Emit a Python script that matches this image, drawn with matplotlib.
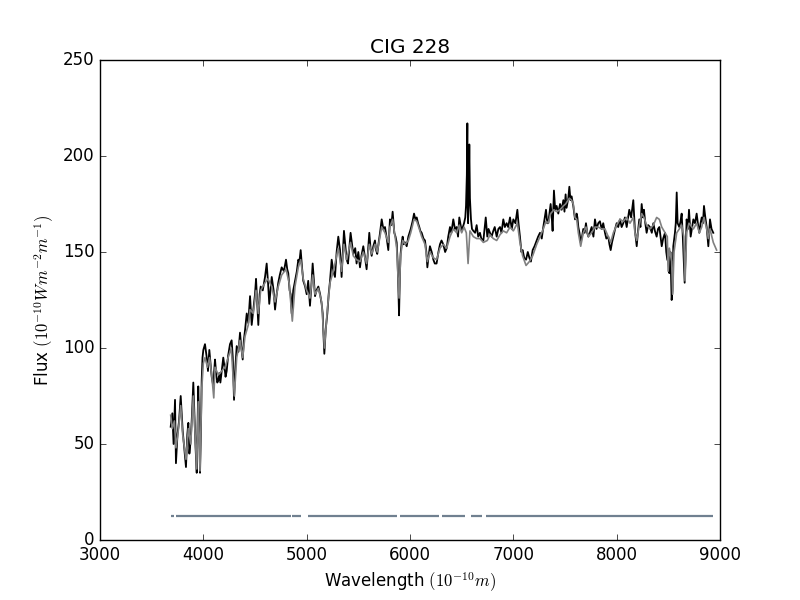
import numpy as np
import matplotlib
matplotlib.use('Agg')
import matplotlib.pyplot as plt

# observed spectrum (black)
obs_wave = [3684, 3700, 3712, 3726, 3735, 3750, 3765, 3781, 3800, 3815, 3832, 3845, 3855, 3865, 3878, 3890,
            3903, 3916, 3925, 3936, 3951, 3960, 3968, 3976, 3984, 3992, 4000, 4016, 4033, 4045, 4058, 4070,
            4081, 4097, 4105, 4113, 4125, 4135, 4145, 4155, 4165, 4178, 4193, 4205, 4215, 4226, 4240, 4258,
            4274, 4285, 4297, 4310, 4323, 4340, 4355, 4368, 4381, 4392, 4403, 4420, 4435, 4452, 4468, 4484,
            4500, 4510, 4520, 4532, 4545, 4555, 4575, 4597, 4613, 4625, 4638, 4650, 4662, 4680, 4694, 4710,
            4725, 4740, 4758, 4780, 4800, 4812, 4822, 4835, 4845, 4855, 4870, 4887, 4905, 4919, 4930, 4942,
            4955, 4967, 4985, 5000, 5015, 5032, 5045, 5058, 5070, 5081, 5095, 5113, 5130, 5145, 5155, 5161,
            5171, 5185, 5200, 5213, 5226, 5242, 5258, 5274, 5290, 5306, 5323, 5338, 5361, 5387, 5400, 5425,
            5451, 5470, 5483, 5500, 5516, 5530, 5548, 5565, 5580, 5593, 5606, 5618, 5629, 5645, 5661, 5672,
            5683, 5697, 5710, 5726, 5742, 5758, 5775, 5790, 5806, 5820, 5832, 5848, 5860, 5871, 5880, 5887,
            5894, 5902, 5909, 5920, 5929, 5940, 5952, 5968, 5984, 6007, 6025, 6039, 6052, 6065, 6078, 6090,
            6100, 6113, 6130, 6145, 6158, 6168, 6180, 6193, 6210, 6226, 6240, 6257, 6275, 6290, 6305, 6322,
            6340, 6355, 6370, 6387, 6400, 6419, 6435, 6452, 6465, 6477, 6490, 6500, 6512, 6523, 6535, 6542,
            6550, 6555, 6558, 6562, 6568, 6574, 6580, 6590, 6600, 6613, 6630, 6645, 6660, 6677, 6690, 6710,
            6722, 6733, 6748, 6760, 6774, 6790, 6806, 6820, 6839, 6855, 6871, 6885, 6903, 6918, 6935, 6950,
            6968, 6985, 7000, 7020, 7039, 7050, 7064, 7078, 7090, 7105, 7123, 7140, 7155, 7170, 7187, 7205,
            7226, 7240, 7258, 7275, 7290, 7305, 7316, 7328, 7338, 7350, 7361, 7372, 7380, 7393, 7405, 7419,
            7435, 7452, 7468, 7484, 7495, 7506, 7515, 7522, 7532, 7542, 7553, 7564, 7580, 7597, 7613, 7620,
            7629, 7640, 7652, 7665, 7677, 7690, 7703, 7715, 7726, 7740, 7758, 7775, 7790, 7805, 7822, 7838,
            7855, 7870, 7887, 7900, 7919, 7930, 7942, 7955, 7968, 7985, 8000, 8015, 8032, 8048, 8064, 8080,
            8097, 8122, 8140, 8161, 8177, 8194, 8205, 8219, 8230, 8242, 8255, 8264, 8277, 8290, 8305, 8322,
            8340, 8355, 8370, 8387, 8400, 8413, 8425, 8436, 8450, 8468, 8480, 8490, 8500, 8510, 8520, 8532,
            8540, 8548, 8564, 8572, 8581, 8590, 8606, 8618, 8629, 8640, 8650, 8658, 8668, 8677, 8690, 8700,
            8708, 8716, 8730, 8742, 8758, 8774, 8788, 8800, 8812, 8823, 8835, 8845, 8858, 8871, 8887, 8895,
            8903, 8918, 8935]
obs_flux = [59, 66, 50, 73, 40, 55, 62, 75, 57, 48, 38, 55, 61, 45, 52, 65,
            82, 62, 48, 35, 80, 60, 35, 55, 83, 95, 99, 102, 95, 88, 99, 92,
            85, 80, 88, 94, 86, 82, 83, 87, 82, 88, 95, 90, 85, 88, 96, 102,
            104, 95, 73, 90, 101, 98, 108, 100, 94, 104, 109, 118, 113, 127, 112, 120,
            128, 136, 125, 112, 128, 132, 130, 137, 144, 135, 123, 130, 137, 130, 120, 128,
            134, 138, 142, 140, 146, 141, 139, 130, 128, 118, 130, 135, 140, 146, 145, 151,
            142, 135, 132, 128, 135, 122, 132, 144, 135, 127, 130, 132, 128, 123, 118, 109,
            97, 110, 118, 128, 135, 146, 140, 137, 150, 158, 151, 137, 161, 146, 144, 160,
            149, 152, 144, 150, 142, 148, 153, 147, 141, 150, 160, 152, 148, 153, 156, 151,
            149, 155, 160, 167, 162, 163, 157, 151, 167, 164, 171, 160, 158, 155, 145, 132,
            117, 138, 149, 155, 158, 154, 155, 153, 158, 162, 166, 170, 167, 168, 165, 163,
            161, 160, 157, 156, 150, 142, 148, 153, 150, 146, 144, 144, 150, 154, 156, 154,
            150, 152, 158, 163, 160, 167, 162, 163, 158, 168, 164, 161, 163, 165, 168, 174,
            190, 217, 175, 165, 180, 206, 178, 167, 162, 161, 160, 164, 158, 160, 157, 156,
            162, 168, 158, 162, 160, 158, 161, 163, 158, 162, 163, 160, 167, 163, 165, 163,
            168, 162, 167, 165, 172, 165, 158, 150, 151, 147, 146, 150, 147, 145, 151, 153,
            156, 158, 160, 157, 163, 168, 172, 165, 165, 170, 175, 168, 161, 182, 172, 174,
            170, 175, 172, 177, 171, 180, 173, 175, 178, 184, 177, 179, 174, 167, 170, 168,
            163, 160, 155, 158, 162, 160, 165, 160, 158, 160, 163, 158, 167, 162, 165, 166,
            162, 165, 160, 157, 158, 154, 151, 155, 158, 162, 165, 163, 167, 163, 165, 168,
            163, 172, 168, 177, 161, 153, 160, 167, 163, 175, 168, 172, 165, 160, 164, 163,
            160, 165, 161, 158, 162, 163, 158, 153, 157, 160, 150, 146, 145, 139, 150, 125,
            130, 153, 160, 165, 181, 165, 163, 166, 170, 158, 145, 134, 150, 167, 162, 172,
            165, 158, 163, 167, 165, 170, 164, 160, 165, 168, 165, 174, 168, 163, 153, 160,
            167, 162, 160]

# fitted model spectrum (grey)
fit_wave = [3684, 3700, 3720, 3735, 3760, 3781, 3800, 3832, 3855, 3878, 3903, 3916, 3936, 3951, 3968, 3984,
            4000, 4016, 4040, 4060, 4081, 4101, 4113, 4145, 4178, 4210, 4240, 4270, 4300, 4323, 4355, 4381,
            4403, 4435, 4452, 4484, 4510, 4532, 4555, 4597, 4625, 4662, 4694, 4725, 4758, 4800, 4830, 4861,
            4887, 4919, 4942, 4967, 5000, 5032, 5058, 5081, 5113, 5145, 5172, 5200, 5226, 5258, 5290, 5306,
            5338, 5361, 5387, 5425, 5451, 5483, 5516, 5548, 5580, 5606, 5629, 5661, 5683, 5710, 5726, 5758,
            5790, 5806, 5832, 5871, 5894, 5909, 5929, 5952, 5984, 6007, 6039, 6065, 6090, 6113, 6145, 6168,
            6193, 6226, 6257, 6290, 6322, 6355, 6387, 6419, 6452, 6477, 6500, 6523, 6545, 6562, 6580, 6613,
            6645, 6677, 6710, 6748, 6774, 6806, 6839, 6871, 6903, 6935, 6968, 7000, 7039, 7064, 7090, 7123,
            7155, 7187, 7226, 7258, 7290, 7316, 7338, 7361, 7393, 7419, 7452, 7484, 7506, 7542, 7564, 7580,
            7597, 7613, 7629, 7652, 7677, 7703, 7726, 7758, 7790, 7822, 7855, 7887, 7919, 7942, 7968, 8000,
            8032, 8064, 8097, 8129, 8161, 8177, 8194, 8219, 8242, 8264, 8290, 8322, 8355, 8387, 8413, 8436,
            8468, 8490, 8498, 8510, 8532, 8542, 8555, 8581, 8606, 8629, 8650, 8662, 8677, 8700, 8742, 8774,
            8800, 8823, 8845, 8871, 8887, 8903, 8935, 8967]
fit_flux = [65, 58, 62, 48, 58, 70, 55, 42, 58, 50, 75, 60, 37, 72, 36, 78,
            92, 95, 90, 95, 86, 74, 90, 86, 88, 90, 95, 100, 75, 95, 104, 95,
            106, 112, 120, 118, 130, 118, 130, 134, 136, 132, 124, 132, 138, 141, 134, 114,
            132, 142, 146, 136, 130, 126, 138, 128, 131, 124, 100, 120, 134, 140, 148, 152,
            140, 154, 146, 155, 148, 146, 145, 150, 144, 154, 149, 154, 150, 158, 163, 160,
            155, 163, 167, 152, 126, 148, 156, 154, 156, 160, 167, 166, 162, 158, 154, 145,
            150, 147, 146, 152, 154, 152, 158, 162, 160, 164, 160, 163, 160, 144, 161, 158,
            157, 157, 155, 156, 159, 157, 156, 159, 161, 160, 163, 161, 165, 155, 148, 143,
            145, 148, 154, 158, 162, 166, 165, 170, 172, 171, 172, 174, 175, 178, 177, 175,
            168, 167, 160, 153, 160, 163, 158, 160, 163, 163, 162, 162, 158, 155, 160, 164,
            167, 166, 168, 165, 168, 160, 156, 164, 170, 168, 164, 162, 164, 168, 167, 163,
            160, 158, 140, 152, 145, 128, 150, 160, 162, 164, 158, 135, 160, 165, 162, 165,
            160, 163, 168, 162, 157, 162, 155, 151]

# masked regions (drawn as a line near the bottom)
mask_start = [3688, 3733, 4859, 5012, 5903, 6311, 6590, 6735]
mask_end = [3712, 4848, 4945, 5872, 6277, 6532, 6695, 8931]
mask_level = 12.5

plt.style.use('classic')
fig = plt.figure(figsize=(8, 6), dpi=100, facecolor='white')
ax = fig.add_subplot(111)

ax.plot(obs_wave, obs_flux, color='black', lw=1.3)
ax.plot(fit_wave, fit_flux, color='gray', lw=1.2)
for s, e in zip(mask_start, mask_end):
    ax.plot([s, e], [mask_level, mask_level], color='slategray', lw=1.6, solid_capstyle='butt')

ax.set_xlim(3000, 9000)
ax.set_ylim(0, 250)
ax.set_title('CIG 228')
ax.set_xlabel(r'Wavelength $(10^{-10}m)$')
ax.set_ylabel(r'Flux $(10^{-10}Wm^{-2}m^{-1})$')

fig.savefig('out.png', dpi=100, facecolor='white')
